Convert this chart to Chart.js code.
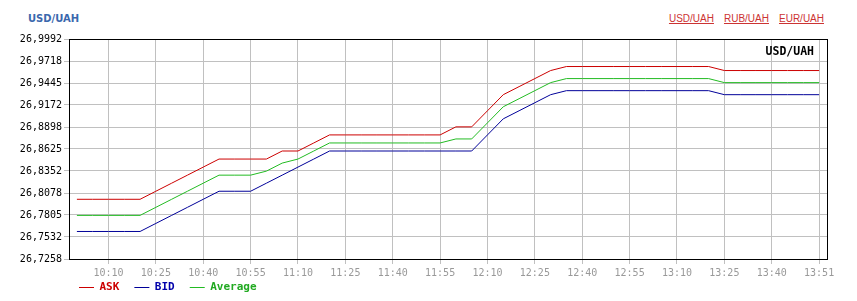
<!DOCTYPE html>
<html>
<head>
<meta charset="utf-8">
<script src="https://cdn.jsdelivr.net/npm/chart.js@4"></script>
<style>
    html, body { margin: 0; padding: 0; background: #fff; overflow: hidden; }
    .wrap { position: relative; width: 857px; height: 301px; overflow: hidden; }
    #chart { position: absolute; left: 0; top: 0; }
    .pair-title {
        position: absolute; left: 28px; top: 13px;
        font: bold 10px "DejaVu Sans", sans-serif; color: #3b68ad;
    }
    .pair-links {
        position: absolute; right: 33px; top: 13px;
        font: 10px "Liberation Sans", Arial, sans-serif;
    }
    .pair-links a { color: #cc3333; text-decoration: underline; margin-left: 10px; }
</style>
</head>
<body>
<div class="wrap">
    <div class="pair-title">USD/UAH</div>
    <div class="pair-links"><a>USD/UAH</a><a>RUB/UAH</a><a>EUR/UAH</a></div>
    <canvas id="chart" width="857" height="301"></canvas>
</div>
<script>
// Data
const times = [
    '10:00', '10:05', '10:10', '10:15', '10:20', '10:25', '10:30', '10:35', '10:40', '10:45', '10:50', '10:55',
    '11:00', '11:05', '11:10', '11:15', '11:20', '11:25', '11:30', '11:35', '11:40', '11:45', '11:50', '11:55',
    '12:00', '12:05', '12:10', '12:15', '12:20', '12:25', '12:30', '12:35', '12:40', '12:45', '12:50', '12:55',
    '13:00', '13:05', '13:10', '13:15', '13:20', '13:25', '13:30', '13:35', '13:40', '13:45', '13:50', '13:51'
];
const xTickLabels = ['10:10', '10:25', '10:40', '10:55', '11:10', '11:25', '11:40', '11:55',
    '12:10', '12:25', '12:40', '12:55', '13:10', '13:25', '13:40', '13:51'];
const yTicks = [26.7258, 26.7532, 26.7805, 26.8078, 26.8352, 26.8625, 26.8898, 26.9172, 26.9445, 26.9718, 26.9992];

const ask = [
    26.80, 26.80, 26.80, 26.80, 26.80, 26.81, 26.82, 26.83, 26.84, 26.85, 26.85, 26.85,
    26.85, 26.86, 26.86, 26.87, 26.88, 26.88, 26.88, 26.88, 26.88, 26.88, 26.88, 26.88,
    26.89, 26.89, 26.91, 26.93, 26.94, 26.95, 26.96, 26.965, 26.965, 26.965, 26.965, 26.965,
    26.965, 26.965, 26.965, 26.965, 26.965, 26.96, 26.96, 26.96, 26.96, 26.96, 26.96, 26.96
];
const bid = [
    26.76, 26.76, 26.76, 26.76, 26.76, 26.77, 26.78, 26.79, 26.80, 26.81, 26.81, 26.81,
    26.82, 26.83, 26.84, 26.85, 26.86, 26.86, 26.86, 26.86, 26.86, 26.86, 26.86, 26.86,
    26.86, 26.86, 26.88, 26.90, 26.91, 26.92, 26.93, 26.935, 26.935, 26.935, 26.935, 26.935,
    26.935, 26.935, 26.935, 26.935, 26.935, 26.93, 26.93, 26.93, 26.93, 26.93, 26.93, 26.93
];
const average = [
    26.78, 26.78, 26.78, 26.78, 26.78, 26.79, 26.80, 26.81, 26.82, 26.83, 26.83, 26.83,
    26.835, 26.845, 26.85, 26.86, 26.87, 26.87, 26.87, 26.87, 26.87, 26.87, 26.87, 26.87,
    26.875, 26.875, 26.895, 26.915, 26.925, 26.935, 26.945, 26.95, 26.95, 26.95, 26.95, 26.95,
    26.95, 26.95, 26.95, 26.95, 26.95, 26.945, 26.945, 26.945, 26.945, 26.945, 26.945, 26.945
];

const seriesNames = ['ASK', 'BID', 'Average'];
const lineColors = ['#cc0000', '#000099', '#22bb22'];
const legendTextColors = ['#cc0000', '#0000aa', '#22aa22'];
const pairName = 'USD/UAH';

const monoFont = '"DejaVu Sans Mono", "Liberation Mono", monospace';
const gridColor = '#c0c0c0';

// Black frame round the plot, the pair name in its corner,
// and the legend moved up under the time labels
const framePlugin = {
    id: 'frame',
    afterLayout(chart) {
        const a = chart.chartArea;
        chart.legend.top = a.bottom + 8;
        chart.legend.left = a.left - 5;
    },
    beforeDatasetsDraw(chart) {
        const { ctx, chartArea: a } = chart;
        ctx.save();
        ctx.strokeStyle = '#000';
        ctx.lineWidth = 1;
        ctx.strokeRect(a.left + 0.5, a.top + 0.5, a.right - a.left, a.bottom - a.top);
        ctx.font = 'bold 11.5px ' + monoFont;
        ctx.fillStyle = '#000';
        ctx.textAlign = 'right';
        ctx.textBaseline = 'middle';
        ctx.fillText(pairName, a.right - 13, a.top + 13);
        ctx.restore();
    }
};

function makeDataset(i, data) {
    return {
        label: seriesNames[i],
        data: data,
        borderColor: lineColors[i],
        backgroundColor: lineColors[i],
        borderWidth: 1,
        pointRadius: 0,
        tension: 0,
        fill: false
    };
}

new Chart(document.getElementById('chart').getContext('2d'), {
    type: 'line',
    data: {
        labels: times,
        datasets: [makeDataset(0, ask), makeDataset(1, bid), makeDataset(2, average)]
    },
    plugins: [framePlugin],
    options: {
        responsive: false,
        animation: false,
        layout: { padding: { left: 0, top: 39, right: 30, bottom: 0 } },
        plugins: {
            tooltip: { enabled: false },
            legend: {
                position: 'bottom',
                align: 'start',
                maxHeight: 21,
                labels: {
                    boxWidth: 15,
                    boxHeight: 1,
                    padding: 15,
                    font: { family: monoFont, size: 11, weight: 'bold' },
                    generateLabels(chart) {
                        return Chart.defaults.plugins.legend.labels.generateLabels(chart).map((item, i) => ({
                            ...item,
                            fillStyle: lineColors[i],
                            strokeStyle: lineColors[i],
                            lineWidth: 0,
                            fontColor: legendTextColors[i]
                        }));
                    }
                }
            }
        },
        scales: {
            x: {
                type: 'category',
                offset: true,
                border: { display: false },
                grid: { color: gridColor, offset: false, tickLength: 5 },
                ticks: {
                    autoSkip: false,
                    maxRotation: 0,
                    padding: 3,
                    color: '#999',
                    font: { family: monoFont, size: 10 }
                },
                afterBuildTicks(scale) {
                    scale.ticks = scale.ticks.filter(t => xTickLabels.includes(times[t.value]));
                },
                afterFit(scale) {
                    scale.height = 21;
                }
            },
            y: {
                min: yTicks[0],
                max: yTicks[yTicks.length - 1],
                border: { display: false },
                grid: { color: gridColor, tickLength: 5 },
                ticks: {
                    padding: 2,
                    color: '#000',
                    font: { family: monoFont, size: 10 },
                    callback: value => value.toFixed(4).replace('.', ',')
                },
                afterBuildTicks(scale) {
                    scale.ticks = yTicks.map(value => ({ value }));
                },
                afterFit(scale) {
                    scale.width = 69;
                }
            }
        }
    }
});
</script>
</body>
</html>
